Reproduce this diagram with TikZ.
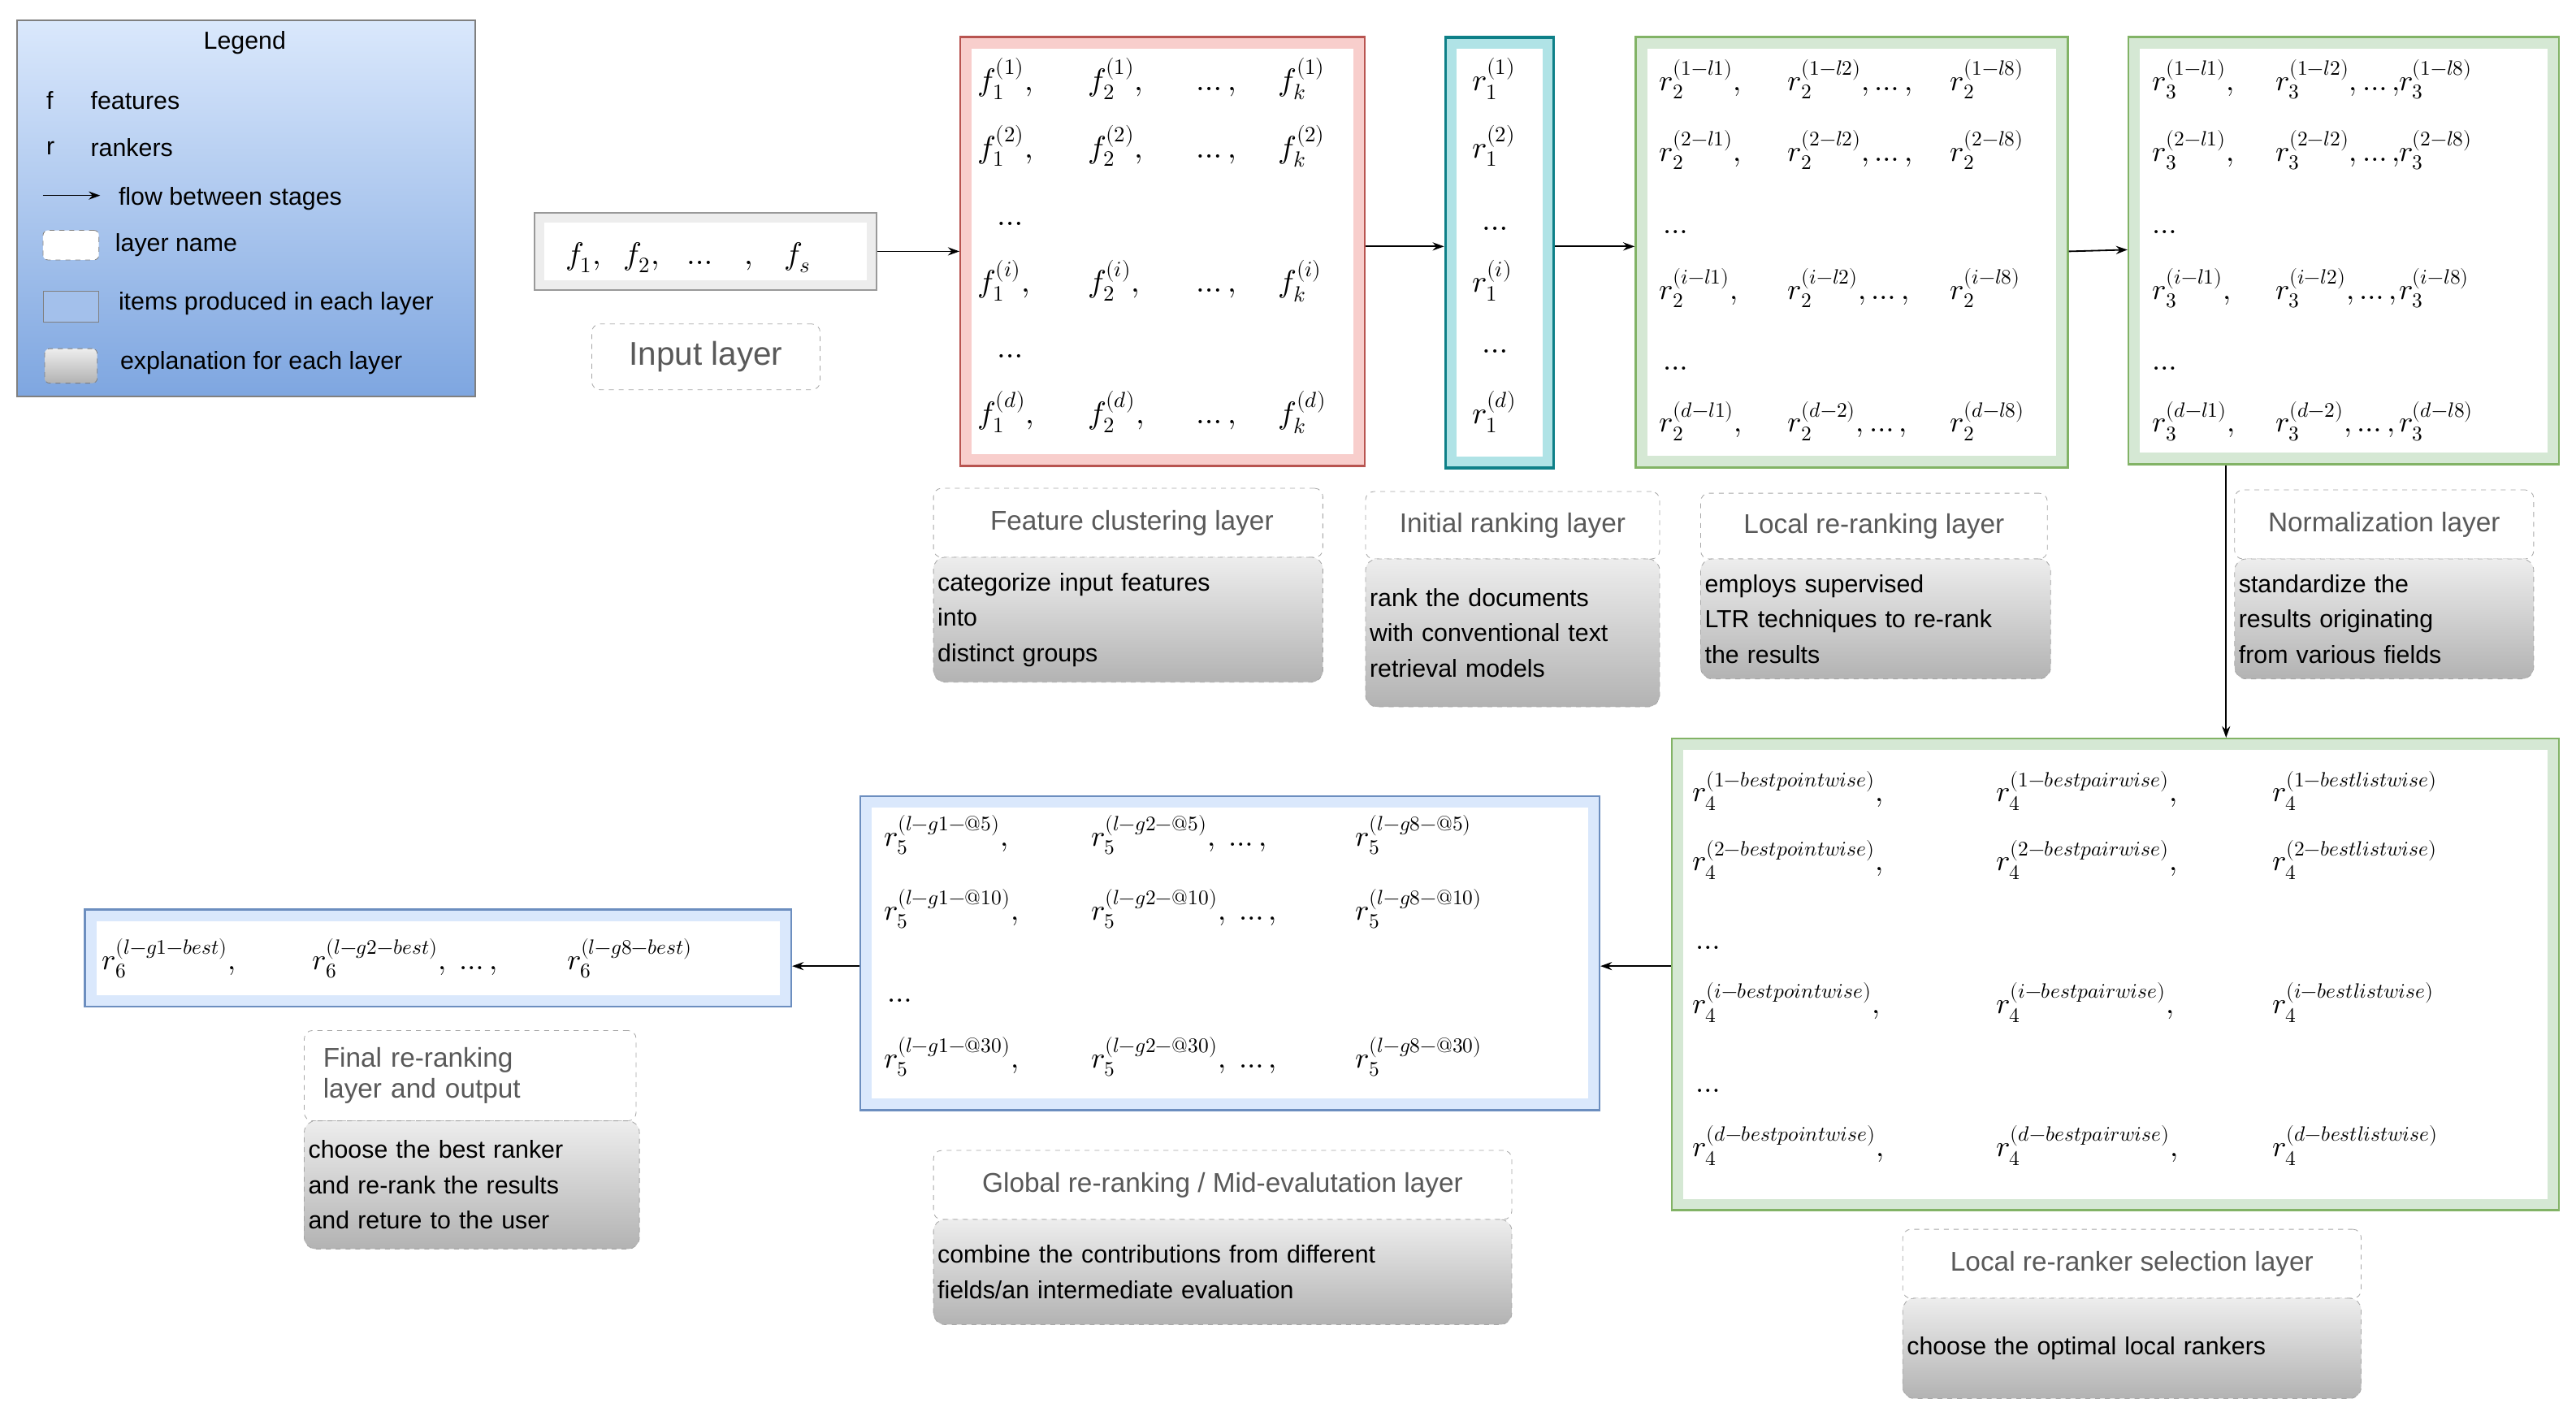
\documentclass[tikz,border=0pt]{standalone}
\usepackage{fontspec}
\setmainfont{Liberation Sans}
\usepackage{amsmath}
\usepackage{unicode-math}
\setmathfont{Latin Modern Math}
\usetikzlibrary{arrows.meta,shadings}
\definecolor{pinkf}{HTML}{F8CECC}\definecolor{pinkd}{HTML}{B85450}
\definecolor{tealf}{HTML}{B0E3E6}\definecolor{teald}{HTML}{0E8088}
\definecolor{greenf}{HTML}{D5E8D4}\definecolor{greend}{HTML}{82B366}
\definecolor{bluef}{HTML}{DAE8FC}\definecolor{blued}{HTML}{6C8EBF}
\definecolor{legtop}{HTML}{DAE8FC}\definecolor{legbot}{HTML}{7EA6E0}
\tikzset{
 panel/.style={draw=#1d,fill=#1f,line width=1.2pt,anchor=north west,inner sep=0pt,
   path picture={\fill[white] ([shift={(7pt,-7pt)}]path picture bounding box.north west) rectangle ([shift={(-7pt,7pt)}]path picture bounding box.south east);}},
 title/.style={draw=gray!70,dashed,rounded corners=5pt,anchor=north west,inner sep=2pt,
   text=black!65,font=\fontsize{16.5}{19}\selectfont,align=left},
 expl/.style={draw=gray!70,dashed,rounded corners=7pt,anchor=north west,inner sep=2pt,
   top color=white!93!black,bottom color=black!30,font=\fontsize{15}{21.5}\selectfont,align=left},
 m/.style={anchor=base west,inner sep=0pt,font=\fontsize{19}{22}\selectfont},
 ms/.style={anchor=base west,inner sep=0pt,font=\fontsize{18}{22}\selectfont},
 leg/.style={anchor=west,inner sep=0pt,font=\fontsize{15}{18}\selectfont},
 flow/.style={-{Stealth[length=7pt,width=5pt]},line width=0.9pt},
}
\begin{document}
\begin{tikzpicture}[x=1pt,y=-1pt]
\useasboundingbox[fill=white] (0,0) rectangle (1568,859.4);
% legend
\node[draw=gray,line width=1pt,top color=legtop,bottom color=legbot,minimum width=279pt,minimum height=229pt,anchor=north west,inner sep=0pt] (legend) at (10,12) {};
\node[leg,anchor=center] (lt) at (149,26) {Legend};
\node[leg] (lf) at (28,61) {f}; \node[leg] (lf2) at (55,61) {features};
\node[leg] (lr) at (28,90) {r}; \node[leg] (lr2) at (55,90) {rankers};
\coordinate (la1) at (26,119); \coordinate (la2) at (61,119);
\draw[flow,line width=0.8pt] (la1) -- (la2);
\node[leg] (lfl) at (72,121) {flow between stages};
\node[draw=gray,dashed,fill=white,rounded corners=3pt,minimum width=34pt,minimum height=18pt,anchor=north west,inner sep=0pt] (lln) at (26,140) {};
\node[leg] (llt) at (70,149) {layer name};
\node[draw=gray,fill=legbot!60!legtop,minimum width=34pt,minimum height=19pt,anchor=north west,inner sep=0pt] (lit) at (26,177) {};
\node[leg] (lit2) at (72,185) {items produced in each layer};
\node[draw=gray,dashed,top color=white!93!black,bottom color=black!30,rounded corners=3pt,minimum width=32pt,minimum height=21pt,anchor=north west,inner sep=0pt] (lex) at (27,212) {};
\node[leg] (lex2) at (73,221) {explanation for each layer};

% input
\node[draw=gray!80,fill=black!7,line width=1pt,minimum width=208pt,minimum height=47pt,anchor=north west,inner sep=0pt,
 path picture={\fill[white] ([shift={(6pt,-6pt)}]path picture bounding box.north west) rectangle ([shift={(-6pt,6pt)}]path picture bounding box.south east);}] (input) at (325,129) {};
\node[m] (in1) at (344,161) {$f_1,\;\; f_2,\;\;\, \ldots\;\;\; ,\;\;\; f_s$};
\node[title,minimum width=139pt,minimum height=40pt,font=\fontsize{20}{24}\selectfont] (inlab) at (360,197) {Input layer};

% feature clustering
\node[panel=pink,minimum width=246pt,minimum height=261pt] (feat) at (584,22) {};
\foreach \y/\s in {55/1,96/2,178/i,258/d}{
 \node[m] at (595,\y) {$f_1^{(\s)},$};
 \node[m] at (662,\y) {$f_2^{(\s)},$};
 \node[m] at (728,\y) {$\ldots,$};
 \node[m] at (778,\y) {$f_k^{(\s)}$};}
\node[m] at (607,137) {$\ldots$};
\node[m] at (607,218) {$\ldots$};

% initial ranking
\node[panel=teal,minimum width=66pt,minimum height=262pt,line width=1.6pt] (init) at (879,22) {};
\foreach \y/\s in {55/1,96/2,178/i,258/d}{\node[m] at (896,\y) {$r_1^{(\s)}$};}
\node[m] at (902,140) {$\ldots$};
\node[m] at (902,215) {$\ldots$};

% local reranking
\node[panel=green,minimum width=263pt,minimum height=262pt] (local) at (995,22) {};
\foreach \y/\a/\b/\c in {55/1-l1/1-l2/1-l8,98/2-l1/2-l2/2-l8,182/i-l1/i-l2/i-l8,263/d-l1/d-2/d-l8}{
 \node[ms] at (1010,\y) {$r_2^{(\a)},$};
 \node[ms] at (1088,\y) {$r_2^{(\b)},\ldots,$};
 \node[ms] at (1187,\y) {$r_2^{(\c)}$};}
\node[ms] at (1012,142) {$\ldots$};
\node[ms] at (1012,225) {$\ldots$};

% normalization
\node[panel=green,minimum width=262pt,minimum height=260pt] (norm) at (1295,22) {};
\foreach \y/\a/\b/\c in {55/1-l1/1-l2/1-l8,98/2-l1/2-l2/2-l8,182/i-l1/i-l2/i-l8,263/d-l1/d-2/d-l8}{
 \node[ms] at (1310,\y) {$r_3^{(\a)},$};
 \node[ms] at (1385,\y) {$r_3^{(\b)},\ldots,$};
 \node[ms] at (1460,\y) {$r_3^{(\c)}$};}
\node[ms] at (1310,142) {$\ldots$};
\node[ms] at (1310,225) {$\ldots$};

% selection
\node[panel=green,minimum width=540pt,minimum height=287pt] (sel) at (1017,449) {};
\foreach \y/\s in {488/1,530/2,617/i,704/d}{
 \node[ms] at (1030,\y) {$r_4^{(\s-bestpointwise)},$};
 \node[ms] at (1215,\y) {$r_4^{(\s-bestpairwise)},$};
 \node[ms] at (1383,\y) {$r_4^{(\s-bestlistwise)}$};}
\node[ms] at (1032,578) {$\ldots$};
\node[ms] at (1032,665) {$\ldots$};

% global
\node[panel=blue,minimum width=450pt,minimum height=191pt] (glob) at (523,484) {};
\foreach \y/\s in {515/@5,560/@10,650/@30}{
 \node[ms] at (538,\y) {$r_5^{(l-g1-\s)},$};
 \node[ms] at (664,\y) {$r_5^{(l-g2-\s)},\;\ldots,$};
 \node[ms] at (825,\y) {$r_5^{(l-g8-\s)}$};}
\node[ms] at (540,610) {$\ldots$};

% final
\node[panel=blue,minimum width=430pt,minimum height=59pt] (final) at (51,553) {};
\node[ms] at (62,590) {$r_6^{(l-g1-best)},$};
\node[ms] at (190,590) {$r_6^{(l-g2-best)},\;\ldots,$};
\node[ms] at (345,590) {$r_6^{(l-g8-best)}$};

% labels
\node[title,minimum width=237pt,minimum height=42pt] (t1) at (568,297) {\raisebox{-8pt}{\ Feature clustering layer}};
\node[expl,minimum width=237pt,minimum height=76pt,text width=232pt] (e1) at (568,339) {categorize input features\\into\\distinct groups};
\node[title,minimum width=179pt,minimum height=41pt] (t2) at (831,299) {Initial ranking layer};
\node[expl,minimum width=179pt,minimum height=90pt,text width=174pt] (e2) at (831,340) {rank the documents\\with conventional text\\retrieval models};
\node[title,minimum width=211pt,minimum height=40pt] (t3) at (1035,300) {Local re-ranking layer};
\node[expl,minimum width=213pt,minimum height=73pt,text width=208pt] (e3) at (1035,340) {employs supervised\\LTR techniques to re-rank\\the results};
\node[title,minimum width=182pt,minimum height=42pt] (t4) at (1360,298) {Normalization layer};
\node[expl,minimum width=182pt,minimum height=73pt,text width=177pt] (e4) at (1360,340) {standardize the\\results originating\\from various fields};
\node[title,minimum width=279pt,minimum height=42pt] (t5) at (1158,748) {Local re-ranker selection layer};
\node[expl,minimum width=279pt,minimum height=61pt,text width=274pt] (e5) at (1158,790) {choose the optimal local rankers};
\node[title,minimum width=352pt,minimum height=42pt] (t6) at (568,700) {Global re-ranking / Mid-evalutation layer};
\node[expl,minimum width=352pt,minimum height=64pt,text width=347pt] (e6) at (568,742) {combine the contributions from different\\fields/an intermediate evaluation};
\node[title,minimum width=202pt,minimum height=55pt,text width=190pt] (t7) at (185,627) {\ Final re-ranking\\\ layer and output};
\node[expl,minimum width=204pt,minimum height=78pt,text width=199pt] (e7) at (185,682) {choose the best ranker\\and re-rank the results\\and reture to the user};

% flows
\draw[flow] (input.east) -- (feat.west |- input.east);
\draw[flow] (feat.east |- 0,150) -- (init.west |- 0,150);
\draw[flow] (init.east |- 0,150) -- (local.west |- 0,150);
\draw[flow] (local.east |- 0,153) -- (norm.west |- 0,152);
\draw[flow] (norm.south -| 1355,0) -- (sel.north -| 1355,0);
\draw[flow] (sel.west |- 0,588) -- (glob.east |- 0,588);
\draw[flow] (glob.west |- 0,588) -- (final.east |- 0,588);
\end{tikzpicture}
\end{document}
